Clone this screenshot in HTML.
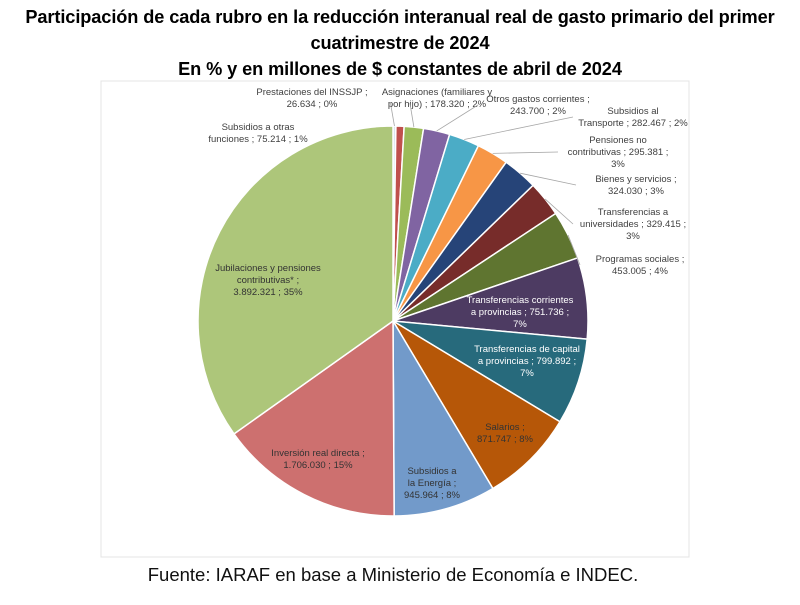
<!DOCTYPE html>
<html><head><meta charset="utf-8"><style>
body{margin:0;width:800px;height:605px;background:#fff;font-family:"Liberation Sans",sans-serif;overflow:hidden}
.t{position:absolute;left:0;width:800px;text-align:center;font-weight:bold;font-size:18.2px;color:#000}
svg{position:absolute;left:0;top:0}
</style></head><body>
<div class="t" style="top:4px;line-height:26px;letter-spacing:-0.1px">Participación de cada rubro en la reducción interanual real de gasto primario del primer<br>cuatrimestre de 2024<br>En % y en millones de $ constantes de abril de 2024</div>
<svg width="800" height="605" id="chart">
<rect x="101" y="81" width="588" height="476" fill="none" stroke="#e4e4e4"/>
<g id="slices"></g><g id="labels" font-size="9.5" fill="#404040" text-anchor="middle"></g>
<text x="393" y="581" font-size="18.5" text-anchor="middle" fill="#111">Fuente: IARAF en base a Ministerio de Economía e INDEC.</text>
</svg>
<script>
const categories=["Prestaciones del INSSJP","Subsidios a otras funciones","Asignaciones (familiares y por hijo)","Otros gastos corrientes","Subsidios al Transporte","Pensiones no contributivas","Bienes y servicios","Transferencias a universidades","Programas sociales","Transferencias corrientes a provincias","Transferencias de capital a provincias","Salarios","Subsidios a la Energía","Inversión real directa","Jubilaciones y pensiones contributivas*"];
const values=[26634,75214,178320,243700,282467,295381,324030,329415,453005,751736,799892,871747,945964,1706030,3892321];
const valueLabels=["26.634","75.214","178.320","243.700","282.467","295.381","324.030","329.415","453.005","751.736","799.892","871.747","945.964","1.706.030","3.892.321"];
const pctLabels=["0%","1%","2%","2%","2%","3%","3%","3%","4%","7%","7%","8%","8%","15%","35%"];
const colors=["#dbe6f1","#c0504d","#9bbb59","#8064a2","#4bacc6","#f79646","#264478","#772c2a","#5f7530","#4d3b62","#276a7c","#b65708","#729aca","#cd706f","#adc67a"];
const cx=393,cy=321,R=195;
const total=values.reduce((a,b)=>a+b,0);
const ns="http://www.w3.org/2000/svg";
const g=document.getElementById('slices');
function pt(a,r){return [cx+r*Math.sin(a),cy-r*Math.cos(a)];}
let acc=0;const mids=[];
values.forEach((v,i)=>{
 const a0=acc/total*2*Math.PI;acc+=v;const a1=acc/total*2*Math.PI;mids.push((a0+a1)/2);
 const p0=pt(a0,R),p1=pt(a1,R);
 const p=document.createElementNS(ns,'path');
 p.setAttribute('d',`M${cx},${cy}L${p0[0]},${p0[1]}A${R},${R} 0 ${a1-a0>Math.PI?1:0} 1 ${p1[0]},${p1[1]}Z`);
 p.setAttribute('fill',colors[i]);p.setAttribute('stroke','#fff');p.setAttribute('stroke-width','1.5');
 
 
 g.appendChild(p);
});
const lay=[
 [312,95,["Prestaciones del INSSJP ;","26.634 ; 0%"],true,"#404040"],
 [258,130,["Subsidios a otras","funciones ;  75.214 ; 1%"],false],
 [437,95,["Asignaciones (familiares y","por hijo) ;  178.320 ; 2%"],true],
 [538,102,["Otros gastos corrientes ;","243.700 ; 2%"],true],
 [633,114,["Subsidios al","Transporte ;  282.467 ; 2%"],true],
 [618,143,["Pensiones no","contributivas ;  295.381 ;","3%"],true],
 [636,182,["Bienes y servicios ;","324.030 ; 3%"],true],
 [633,215,["Transferencias a","universidades ;  329.415 ;","3%"],true],
 [640,262,["Programas sociales ;","453.005 ; 4%"],true],
 [520,303,["Transferencias corrientes","a provincias ;  751.736 ;","7%"],false,"#fff"],
 [527,352,["Transferencias de capital","a provincias ;  799.892 ;","7%"],false,"#fff"],
 [505,430,["Salarios ;","871.747 ; 8%"],false,"#333"],
 [432,474,["Subsidios a","la Energía ;","945.964 ; 8%"],false,"#333"],
 [318,456,["Inversión real directa ;","1.706.030 ; 15%"],false,"#333"],
 [268,271,["Jubilaciones y pensiones","contributivas* ;","3.892.321 ; 35%"],false,"#333"]];
const lg=document.getElementById('labels');
lay.forEach((l,i)=>{
 const t=document.createElementNS(ns,'text');
 t.setAttribute('x',l[0]);t.setAttribute('y',l[1]);
 if(l[4])t.setAttribute('fill',l[4]);
 
 
 l[2].forEach((s,j)=>{const ts=document.createElementNS(ns,'tspan');ts.setAttribute('x',l[0]);if(j)ts.setAttribute('dy','12');ts.textContent=s;t.appendChild(ts);});
 lg.appendChild(t);
 if(l[3]){
  const e=pt(mids[i],R);const ln=document.createElementNS(ns,'polyline');
  const ty=l[1]+(l[2].length>2?12:l[2].length>1?6:0)-3;
  const tx=l[0]-(i<=2?0:60);
  ln.setAttribute('points',`${e[0]},${e[1]} ${i<=2?e[0]-4:tx},${i<=2?l[1]+8:ty}`);
  ln.setAttribute('stroke','#a6a6a6');ln.setAttribute('fill','none');ln.setAttribute('stroke-width','0.8');
  
  
  lg.appendChild(ln);
 }
});
</script>
</body></html>
